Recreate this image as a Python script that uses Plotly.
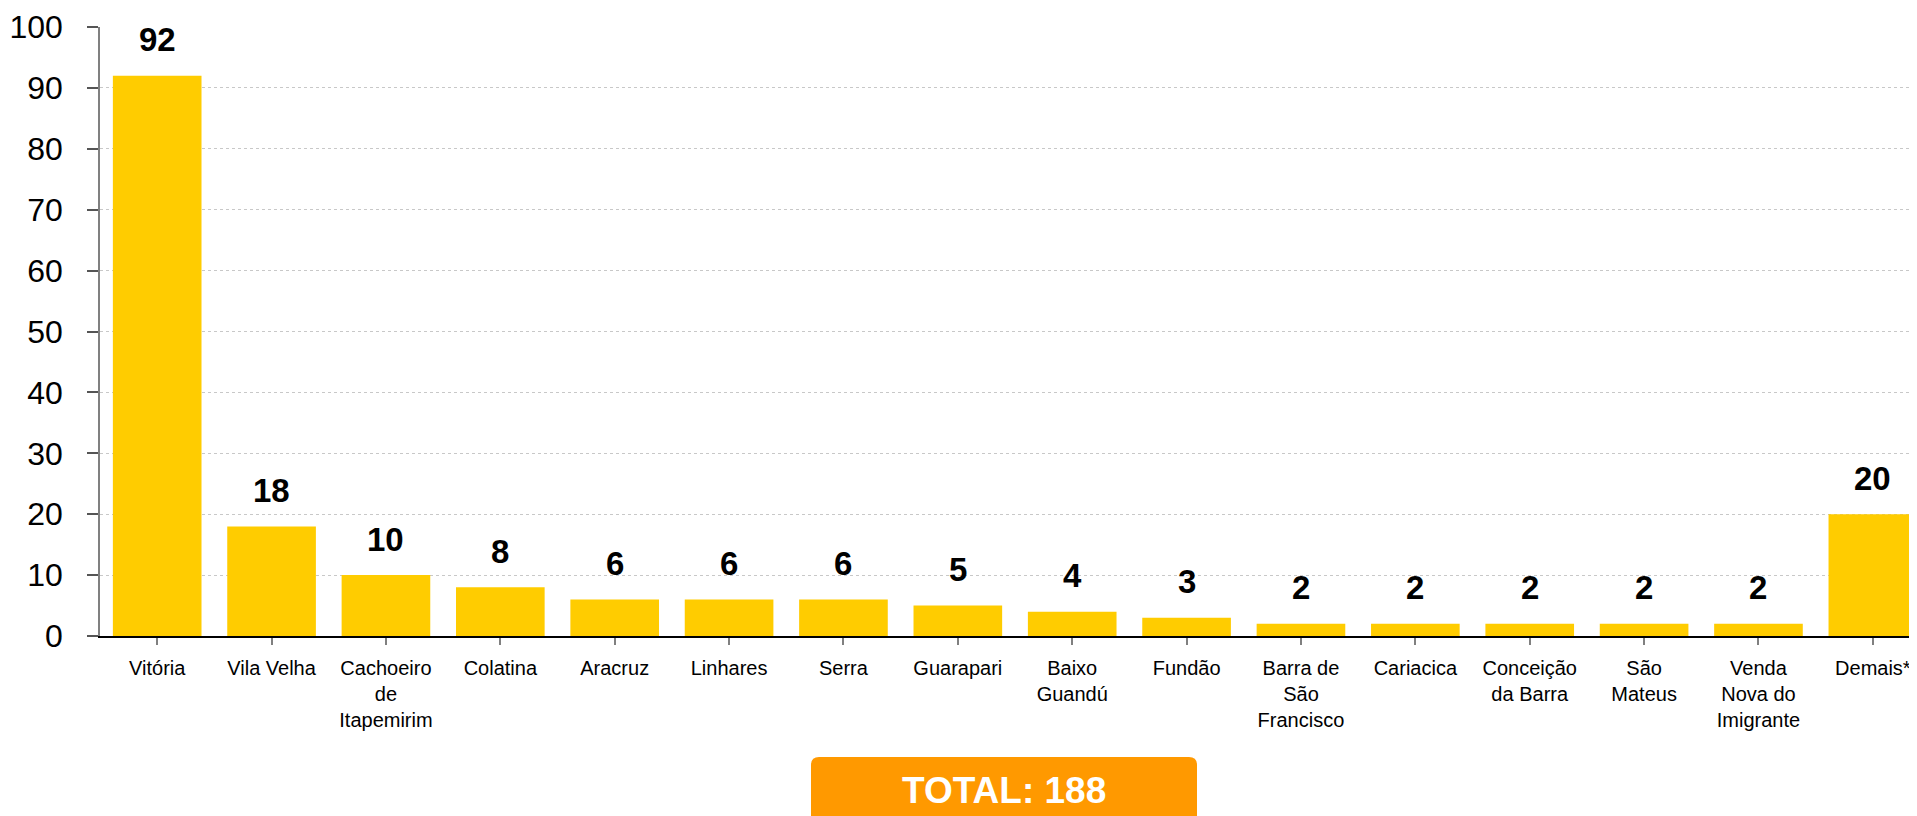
import plotly.graph_objects as go

categories = ["Vitória", "Vila Velha", "Cachoeiro<br>de<br>Itapemirim", "Colatina", "Aracruz",
              "Linhares", "Serra", "Guarapari", "Baixo<br>Guandú", "Fundão",
              "Barra de<br>São<br>Francisco", "Cariacica", "Conceição<br>da Barra",
              "São<br>Mateus", "Venda<br>Nova do<br>Imigrante", "Demais*"]
values = [92, 18, 10, 8, 6, 6, 6, 5, 4, 3, 2, 2, 2, 2, 2, 20]
y_ticks = [0, 10, 20, 30, 40, 50, 60, 70, 80, 90, 100]
total_label = "TOTAL: 188"

FONT = "Liberation Sans, Arial, sans-serif"
BAR_COLOR = "#FFCC00"

# page body has an 8px default margin; figure is sized so it ends at the window edges
W, H = 1909, 808
ML, MT, MB = 92, 19, 180
PW, PH = W - ML, H - MT - MB

fig = go.Figure()
fig.add_trace(go.Bar(
    x=list(range(len(categories))), y=values,
    marker=dict(color=BAR_COLOR, line=dict(width=0)),
    width=0.775, hoverinfo="skip",
))

for i, v in enumerate(values):
    fig.add_annotation(x=i, y=v, text=f"<b>{v}</b>", showarrow=False,
                       yanchor="middle", yshift=36,
                       font=dict(family=FONT, size=33, color="black"))

# TOTAL box (rounded top corners, bottom cut off by page edge)
px0, px1, pyt = 811 - 8, 1197 - 8, 757 - 8   # page pixels inside figure
x0, x1 = (px0 - ML) / PW, (px1 - ML) / PW
yt = (MT + PH - pyt) / PH
yb = yt - 0.2
rx, ry = 8 / PW, 8 / PH
path = (f"M {x0},{yb} L {x0},{yt - ry} Q {x0},{yt} {x0 + rx},{yt} "
        f"L {x1 - rx},{yt} Q {x1},{yt} {x1},{yt - ry} L {x1},{yb} Z")
fig.add_shape(type="path", xref="paper", yref="paper", path=path,
              fillcolor="#FF9900", line=dict(width=0), layer="above")
fig.add_annotation(xref="paper", yref="paper", x=(x0 + x1) / 2,
                   y=(MT + PH - (790 - 8)) / PH,
                   text=f"<b>{total_label}</b>", showarrow=False,
                   xanchor="center", yanchor="middle",
                   font=dict(family=FONT, size=37, color="white"))

fig.update_layout(
    width=W, height=H,
    margin=dict(l=ML, r=0, t=MT, b=MB, pad=0),
    paper_bgcolor="white", plot_bgcolor="white",
    showlegend=False, bargap=0.225,
    font=dict(family=FONT, color="black"),
)
fig.update_xaxes(
    range=[-0.5, 15.386],
    tickmode="array", tickvals=list(range(len(categories))), ticktext=categories,
    tickfont=dict(family=FONT, size=20, color="black"),
    showline=True, linecolor="black", linewidth=1.5,
    ticks="outside", ticklen=7, tickcolor="#808080", tickwidth=1.5,
    tickson="boundaries", showgrid=False, zeroline=False,
    ticklabelstandoff=6,
)
fig.update_yaxes(
    range=[0, 100], tickmode="array", tickvals=y_ticks,
    tickfont=dict(family=FONT, size=32, color="black"),
    showline=True, linecolor="#808080", linewidth=1.5,
    ticks="outside", ticklen=11, tickcolor="#555555", tickwidth=1.5,
    showgrid=True, gridcolor="#C8C8C8", gridwidth=1, griddash="3px,3px",
    zeroline=False, ticklabelstandoff=18,
)

fig.write_html("out.html")
